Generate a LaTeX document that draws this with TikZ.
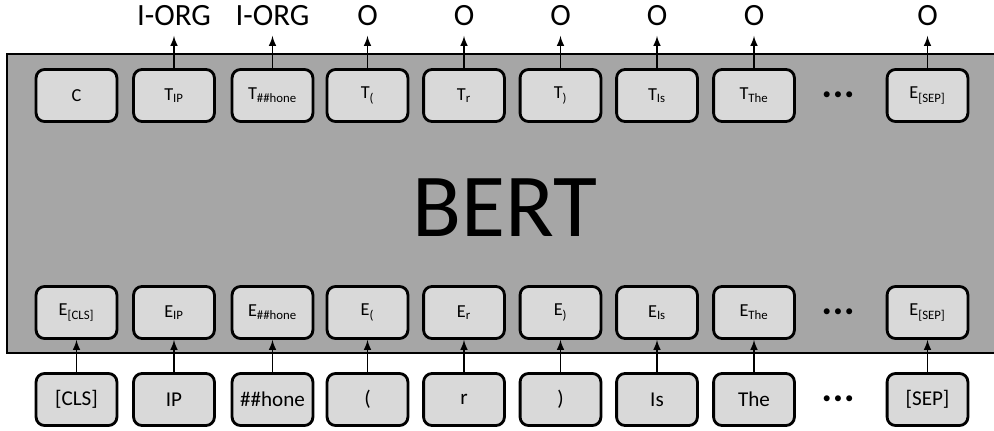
\documentclass[tikz,border=0pt]{standalone}
\usepackage{fontspec}
\setmainfont{Carlito}
\usepackage{tikz}
\usetikzlibrary{arrows,arrows.meta,calc,positioning}
\definecolor{bertgray}{HTML}{A6A6A6}
\definecolor{tokgray}{HTML}{D9D9D9}

\begin{document}
\begin{tikzpicture}[x=0.025cm, y=0.025cm, >=latex, font=\fontsize{13}{15}\selectfont,
    tokbox/.style={draw, line width=2pt, rounded corners=6pt, fill=tokgray,
        minimum width=2.02cm, minimum height=1.3cm, inner sep=0pt},
    freccia/.style={->, line width=1.4pt},
    etichetta/.style={font=\fontsize{22}{24}\selectfont, anchor=base, inner sep=0pt, inner ysep=7pt}]
    \useasboundingbox (0,0) rectangle (994,430);

    % Blocco BERT
    \draw[line width=1.8pt, fill=bertgray] (7,77) rectangle (1000,376);
    \node (bert) at (505,222) {\fontsize{64}{70}\selectfont BERT};

    % Colonne: token, embedding, uscite
    \foreach \i/\px/\tok/\tout/\ein in {
        1/76.5/[CLS]/C/E\textsubscript{[CLS]},
        2/174/IP/T\textsubscript{IP}/E\textsubscript{IP},
        3/272.5/\#\#hone/T\textsubscript{\#\#hone}/E\textsubscript{\#\#hone},
        4/367.5/(/T\textsubscript{(}/E\textsubscript{(},
        5/464/r/T\textsubscript{r}/E\textsubscript{r},
        6/560.5/)/T\textsubscript{)}/E\textsubscript{)},
        7/657/Is/T\textsubscript{Is}/E\textsubscript{Is},
        8/754/The/T\textsubscript{The}/E\textsubscript{The},
        9/927.5/[SEP]/E\textsubscript{[SEP]}/E\textsubscript{[SEP]}}{
        \node[tokbox] (t\i) at (\px,334.5) {\tout};
        \node[tokbox] (e\i) at (\px,117.5) {\ein};
        \node[tokbox, font=\fontsize{15}{17}\selectfont] (w\i) at (\px,30.5) {\tok};
        \draw[freccia] (w\i) -- (e\i);
    }

    % Puntini
    \foreach \r/\py in {t/334.5, e/117.5, w/30.5}
        \node[font=\fontsize{12}{14}\selectfont] (d\r) at (838,\py) {\textbullet\,\textbullet\,\textbullet};

    % Etichette in uscita
    \foreach \i/\lab in {2/I-ORG, 3/I-ORG, 4/O, 5/O, 6/O, 7/O, 8/O, 9/O}{
        \node[etichetta] (l\i) at ($(t\i.north)+(0,42.5)$) {\lab};
        \draw[freccia] (t\i) -- (l\i);
    }
\end{tikzpicture}
\end{document}
